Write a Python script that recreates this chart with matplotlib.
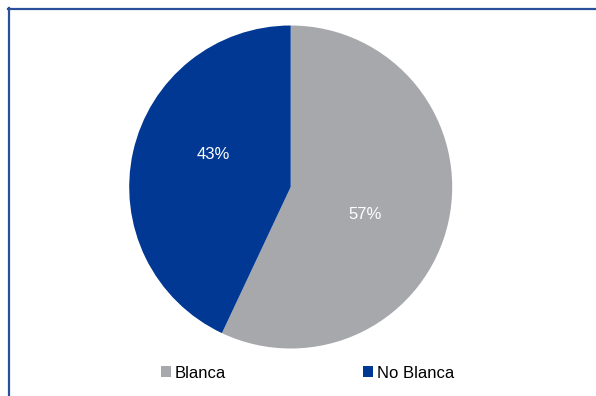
import matplotlib
matplotlib.use("Agg")
import matplotlib.pyplot as plt
from matplotlib.patches import Patch
from matplotlib.lines import Line2D

plt.rcParams["font.family"] = ["Liberation Sans", "DejaVu Sans"]

labels = ["Blanca", "No Blanca"]
shares = [57, 43]
colors = ["#A7A8AC", "#003893"]
# where the percentage labels sit, as fractions of the radius
label_pos = [(0.46, -0.17), (-0.48, 0.20)]

W, H = 596, 396
fig = plt.figure(figsize=(W / 100, H / 100), dpi=100)

# pie: centre (290.7, 187), radius 161.5 px
cx, cy, r = 290.7, 187, 161.5
ax = fig.add_axes([(cx - r) / W, (H - cy - r) / H, 2 * r / W, 2 * r / H])
wedges, texts, autotexts = ax.pie(
    shares, colors=colors, startangle=90, counterclock=False,
    autopct="%d%%", pctdistance=0.5, radius=1,
    textprops=dict(color="white", fontsize=12),
    wedgeprops=dict(linewidth=0),
)
for t, pos in zip(autotexts, label_pos):
    t.set_position(pos)
ax.set_xlim(-1, 1)
ax.set_ylim(-1, 1)
ax.set_aspect("equal")

# frame lines on left and top
border = "#2A4F9B"
fig.add_artist(Line2D([8.5 / W, 8.5 / W], [0, 1 - 7.8 / H], color=border, lw=1.6,
                      transform=fig.transFigure))
fig.add_artist(Line2D([7.8 / W, 1], [1 - 8.5 / H, 1 - 8.5 / H], color=border, lw=1.6,
                      transform=fig.transFigure))

handles = [Patch(facecolor=c, edgecolor="none") for c in colors]
fig.legend(handles, labels, ncol=2, frameon=False, fontsize=12,
           loc="center left", bbox_to_anchor=(161 / W, 1 - 373 / H),
           handlelength=0.6, handleheight=0.6, handletextpad=0.24,
           columnspacing=8.2, borderaxespad=0, borderpad=0)

fig.savefig("out.png", dpi=100)
